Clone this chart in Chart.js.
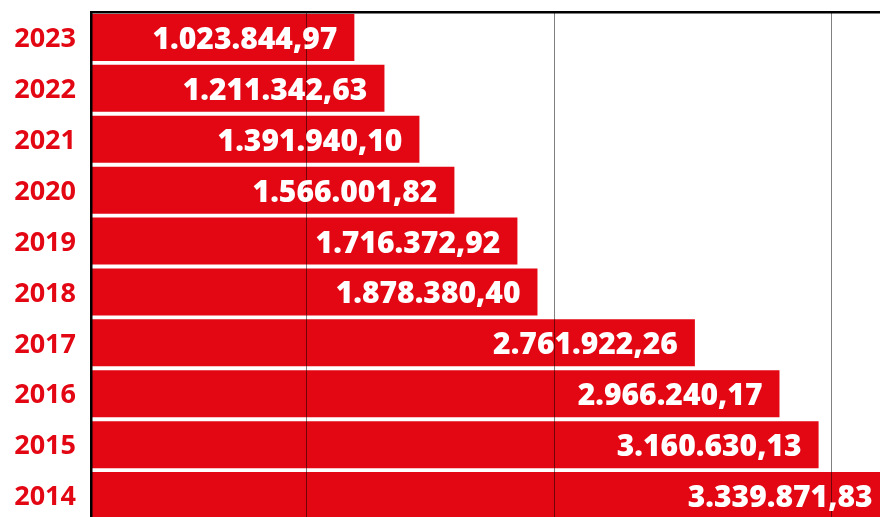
<!DOCTYPE html>
<html>
<head>
<meta charset="utf-8">
<script src="https://cdn.jsdelivr.net/npm/chart.js@4"></script>
<style>
  html, body { margin: 0; padding: 0; background: #fff; overflow: hidden; }
  #wrap { width: 914px; height: 521px; }
</style>
</head>
<body>
<div id="wrap"><canvas id="c" width="914" height="521"></canvas></div>
<script>
// Years (top to bottom)
const years = ['2023', '2022', '2021', '2020', '2019', '2018', '2017', '2016', '2015', '2014'];
// Amounts printed on the bars
const amounts = [1023844.97, 1211342.63, 1391940.10, 1566001.82, 1716372.92, 1878380.40, 2761922.26, 2966240.17, 3160630.13, 3339871.83];
// Bar extents as drawn in the picture (millions, on the picture's own axis)
const barLengths = [1.024, 1.141, 1.277, 1.413, 1.658, 1.736, 2.348, 2.677, 2.829, 3.105];
// Positions of the dotted reference lines on that axis (millions)
const gridValues = [0.836, 1.804, 2.881];

const RED = '#E30613';

function fmt(v) {
  const parts = v.toFixed(2).split('.');
  return parts[0].replace(/\B(?=(\d{3})+(?!\d))/g, '.') + ',' + parts[1];
}

const valueLabels = {
  id: 'valueLabels',
  afterDraw(chart) {
    const ctx = chart.ctx;
    const meta = chart.getDatasetMeta(0);
    ctx.save();
    ctx.font = '800 30px "Open Sans"';
    ctx.fillStyle = '#ffffff';
    ctx.textAlign = 'right';
    ctx.textBaseline = 'alphabetic';
    meta.data.forEach((bar, i) => {
      ctx.fillText(fmt(amounts[i]), bar.x - 17, bar.y + 11.5);
    });
    ctx.restore();
  }
};

new Chart(document.getElementById('c'), {
  type: 'bar',
  data: {
    labels: years,
    datasets: [{
      data: barLengths,
      backgroundColor: RED,
      borderWidth: 0,
      barPercentage: 0.923,
      categoryPercentage: 1
    }]
  },
  options: {
    indexAxis: 'y',
    responsive: false,
    animation: false,
    events: [],
    layout: { padding: { top: 12, left: 0, right: 0, bottom: 0 } },
    plugins: {
      legend: { display: false },
      tooltip: { enabled: false },
      title: { display: false }
    },
    scales: {
      x: {
        position: 'top',
        min: 0,
        max: 3.2,
        afterBuildTicks: (s) => { s.ticks = gridValues.map(v => ({ value: v })); },
        afterFit: (s) => { s.height = 0; s.paddingLeft = 0; s.paddingRight = 0; },
        ticks: { display: false },
        grid: { color: '#000', lineWidth: 1, drawTicks: false, z: 1 },
        border: { display: true, color: '#000', width: 2.5, dash: [1, 1], z: 1 }
      },
      y: {
        type: 'category',
        afterFit: (s) => { s.width = 91; s.paddingTop = 0; s.paddingBottom = 0; },
        grid: { display: false, drawTicks: false },
        border: { display: true, color: '#000', width: 2.5, z: 1 },
        ticks: {
          color: RED,
          padding: 15,
          labelOffset: 2,
          font: { family: '"Open Sans"', weight: 'bold', size: 27 }
        }
      }
    }
  },
  plugins: [valueLabels]
});
</script>
</body>
</html>
